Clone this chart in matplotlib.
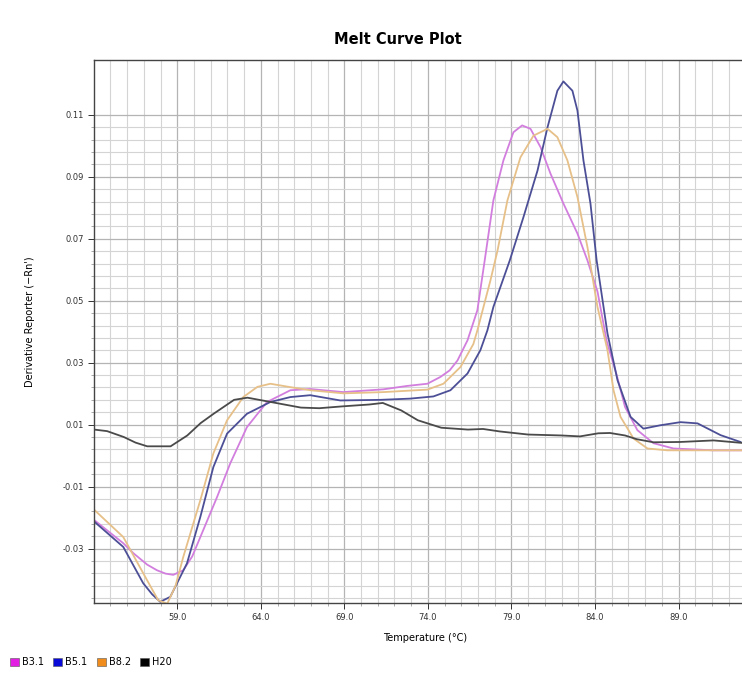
import numpy as np
import matplotlib
matplotlib.use("Agg")
import matplotlib.pyplot as plt
from matplotlib.patches import Patch
from matplotlib.ticker import FixedLocator

# Melt curve data (temperature in degC, -Rn')
b31_t = [54.05, 55.77, 56.37, 57.2, 57.78, 58.3, 58.76, 59.36, 59.9, 60.38, 61.38, 62.17, 63.17, 64.37,
         65.77, 66.96, 68.94, 71.34, 72.77, 73.97, 74.75, 75.3, 75.77, 76.37, 76.96, 77.4, 77.92, 78.52,
         79.12, 79.64, 80.14, 80.74, 81.34, 82.11, 82.95, 83.55, 84.15, 84.7, 85.3, 85.8, 86.54, 87.5,
         88.7, 91.1, 92.8]
b31_v = [-0.0209, -0.0283, -0.0315, -0.0352, -0.037, -0.0381, -0.0385, -0.037, -0.0325, -0.0263, -0.0134,
         -0.0025, 0.0092, 0.0173, 0.0211, 0.0215, 0.0205, 0.0214, 0.0225, 0.0232, 0.0254, 0.0275, 0.0307,
         0.0372, 0.0469, 0.063, 0.0824, 0.0953, 0.1044, 0.1066, 0.1055, 0.0996, 0.091, 0.0814, 0.0717,
         0.063, 0.053, 0.037, 0.026, 0.0157, 0.0082, 0.004, 0.0023, 0.0017, 0.0017]

b51_t = [54.05, 55.77, 56.96, 57.5, 57.98, 58.58, 59.58, 60.38, 61.16, 61.98, 63.17, 64.57, 65.77, 66.96,
         68.76, 71.16, 72.95, 74.33, 75.35, 76.37, 77.14, 77.56, 77.92, 78.9, 79.72, 80.56, 81.16, 81.75,
         82.11, 82.65, 82.95, 83.31, 83.73, 84.1, 84.75, 85.35, 86.13, 86.9, 87.92, 89.12, 90.14, 91.52,
         92.71]
b51_v = [-0.0214, -0.0295, -0.0412, -0.0448, -0.0472, -0.0456, -0.0348, -0.0198, -0.0037, 0.0071, 0.0135,
         0.0173, 0.0189, 0.0195, 0.0178, 0.018, 0.0184, 0.0191, 0.0211, 0.0265, 0.034, 0.0404, 0.048, 0.063,
         0.077, 0.092, 0.106, 0.1178, 0.1208, 0.1178, 0.1114, 0.0953, 0.0814, 0.063, 0.0394, 0.0243,
         0.0125, 0.0087, 0.0098, 0.0108, 0.0104, 0.0066, 0.0044]

b82_t = [54.05, 55.77, 57.19, 57.86, 58.4, 58.9, 59.36, 60.38, 61.16, 61.98, 62.95, 63.8, 64.57, 65.77,
         66.96, 68.94, 71.34, 73.97, 74.93, 75.95, 76.72, 76.96, 77.74, 78.16, 78.76, 79.54, 80.32, 81.16,
         81.75, 82.35, 82.95, 83.55, 84.15, 84.75, 85.11, 85.53, 86.31, 87.14, 88.34, 92.8]
b82_v = [-0.0176, -0.0263, -0.0402, -0.0467, -0.0478, -0.0420, -0.0327, -0.0144, 0.0007, 0.0114, 0.0189,
         0.0222, 0.0232, 0.0221, 0.0211, 0.0201, 0.0205, 0.0213, 0.0232, 0.0286, 0.036, 0.0404, 0.0565,
         0.066, 0.0824, 0.0963, 0.1033, 0.1055, 0.1028, 0.0953, 0.0835, 0.0673, 0.048, 0.034, 0.0211,
         0.0125, 0.0055, 0.0023, 0.0017, 0.0017]

h20_t = [54.03, 54.8, 55.8, 56.5, 57.2, 58.6, 59.6, 60.4, 61.2, 62.4, 63.2, 64.6, 66.4, 67.5, 68.9, 70.5,
         71.3, 72.4, 73.4, 74.8, 76.4, 77.3, 78.3, 80.0, 82.0, 83.1, 84.2, 84.9, 85.8, 86.5, 87.5, 89.1,
         91.1, 92.8]
h20_v = [0.0084, 0.0079, 0.006, 0.0042, 0.003, 0.003, 0.0065, 0.0105, 0.0136, 0.018, 0.0187, 0.0173,
         0.0155, 0.0153, 0.0159, 0.0165, 0.017, 0.0146, 0.0114, 0.009, 0.0084, 0.0086, 0.0078, 0.0068,
         0.0065, 0.0062, 0.0072, 0.0073, 0.0065, 0.0053, 0.0043, 0.0044, 0.0049, 0.0041]

names = ["B3.1", "B5.1", "B8.2", "H20"]
line_colors = ["#d27ede", "#4c4f96", "#e6c088", "#4a4a4a"]
legend_colors = ["#e31ee3", "#0a0ad8", "#f08c1c", "#000000"]

x_ticks = [59.0, 64.0, 69.0, 74.0, 79.0, 84.0, 89.0]
y_ticks = [-0.03, -0.01, 0.01, 0.03, 0.05, 0.07, 0.09, 0.11]

fig = plt.figure(figsize=(7.42, 6.77), dpi=100)
ax = fig.add_axes([0.127, 0.1097, 0.873, 0.8016])

series = [(b31_t, b31_v), (b51_t, b51_v), (b82_t, b82_v), (h20_t, h20_v)]
for (t, v), c in zip(series, line_colors):
    ax.plot(t, v, color=c, lw=1.3, solid_joinstyle="round")

ax.set_xlim(54.03, 92.8)
ax.set_ylim(-0.0475, 0.1277)

ax.set_xticks(x_ticks)
ax.set_xticklabels([f"{x:.1f}" for x in x_ticks])
ax.set_yticks(y_ticks)
ax.set_yticklabels([f"{y:.2f}" for y in y_ticks])
ax.xaxis.set_minor_locator(FixedLocator(np.arange(54, 94, 1.0)))
ax.yaxis.set_minor_locator(FixedLocator(np.arange(0.11, -0.05, -0.004)))

ax.grid(which="minor", color="#d4d4d4", lw=0.8)
ax.grid(which="major", color="#b4b4b4", lw=0.9)
ax.set_axisbelow(True)

ax.tick_params(which="major", direction="out", length=4, width=0.7, labelsize=6, colors="#333333")
ax.tick_params(which="minor", direction="out", length=2, width=0.5, colors="#888888")
for s in ["left", "bottom", "top"]:
    ax.spines[s].set_color("#444444")
    ax.spines[s].set_linewidth(1.0)
ax.spines["right"].set_visible(False)

fig.text(398 / 742, 1 - 40 / 677, "Melt Curve Plot", ha="center", va="center",
         fontsize=10.5, fontweight="bold")
fig.text(425 / 742, 1 - 638 / 677, "Temperature (°C)", ha="center", va="center", fontsize=7)
fig.text(30 / 742, 1 - 322 / 677, "Derivative Reporter (\u2212Rn')", ha="center", va="center",
         fontsize=7, rotation=90)

handles = [Patch(facecolor=c, edgecolor="#555555", lw=0.4) for c in legend_colors]
fig.legend(handles, names, loc="center left", bbox_to_anchor=(10 / 742, 1 - 662 / 677), ncol=4,
           frameon=False, fontsize=7, handlelength=0.9, handleheight=0.9, handletextpad=0.3,
           columnspacing=1.0, borderaxespad=0, borderpad=0)

fig.savefig("out.png", dpi=100, facecolor="white")
